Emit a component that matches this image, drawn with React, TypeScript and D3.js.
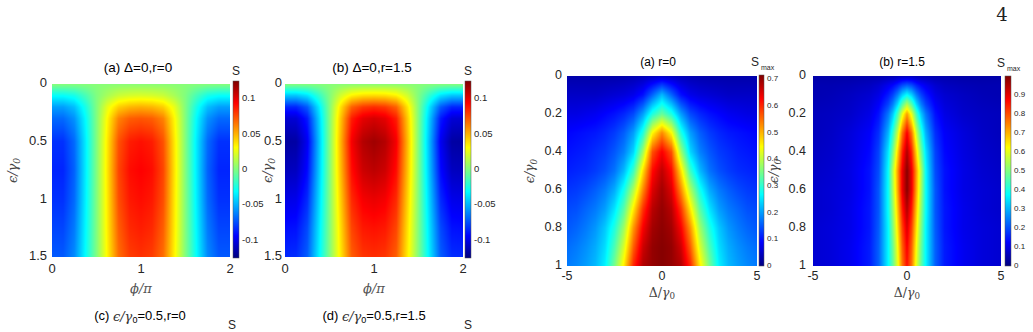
import React, { useMemo } from "react"
import * as d3 from "d3"

// ---- panels (a)/(b): S over phi/pi (cols) and eps/gamma0 (rows) ----
const phiCols = [0, 0.125, 0.25, 0.375, 0.5, 0.625, 0.75, 0.875, 1, 1.125, 1.25, 1.375, 1.5, 1.625, 1.75, 1.875, 2]
const epsRowsS = [0, 0.1, 0.2, 0.3, 0.5, 0.75, 1, 1.25, 1.5]

const sDelta0R0 = [
  [0.002, 0.002, 0.002, 0.002, 0.002, 0.002, 0.002, 0.002, 0.002, 0.002, 0.002, 0.002, 0.002, 0.002, 0.002, 0.002, 0.002],
  [-0.030, -0.030, -0.026, -0.014, 0, 0.010, 0.018, 0.021, 0.022, 0.021, 0.018, 0.010, 0, -0.014, -0.026, -0.030, -0.030],
  [-0.055, -0.055, -0.047, -0.026, 0, 0.026, 0.043, 0.049, 0.051, 0.049, 0.043, 0.026, 0, -0.026, -0.047, -0.055, -0.055],
  [-0.068, -0.068, -0.058, -0.032, 0, 0.033, 0.062, 0.071, 0.073, 0.071, 0.062, 0.033, 0, -0.032, -0.058, -0.068, -0.068],
  [-0.082, -0.082, -0.068, -0.036, 0, 0.037, 0.074, 0.087, 0.090, 0.087, 0.074, 0.037, 0, -0.036, -0.068, -0.082, -0.082],
  [-0.085, -0.085, -0.070, -0.036, 0, 0.038, 0.077, 0.091, 0.094, 0.091, 0.077, 0.038, 0, -0.036, -0.070, -0.085, -0.085],
  [-0.082, -0.082, -0.068, -0.035, 0, 0.037, 0.075, 0.088, 0.091, 0.088, 0.075, 0.037, 0, -0.035, -0.068, -0.082, -0.082],
  [-0.077, -0.077, -0.064, -0.033, 0, 0.036, 0.071, 0.084, 0.087, 0.084, 0.071, 0.036, 0, -0.033, -0.064, -0.077, -0.077],
  [-0.072, -0.072, -0.060, -0.031, 0, 0.034, 0.067, 0.079, 0.082, 0.079, 0.067, 0.034, 0, -0.031, -0.060, -0.072, -0.072],
]

const sDelta0R15 = [
  [0.002, 0.002, 0.002, 0.002, 0.002, 0.002, 0.002, 0.002, 0.002, 0.002, 0.002, 0.002, 0.002, 0.002, 0.002, 0.002, 0.002],
  [-0.045, -0.045, -0.038, -0.020, 0, 0.020, 0.034, 0.039, 0.040, 0.039, 0.034, 0.020, 0, -0.020, -0.038, -0.045, -0.045],
  [-0.085, -0.085, -0.072, -0.038, 0, 0.038, 0.070, 0.080, 0.083, 0.080, 0.070, 0.038, 0, -0.038, -0.072, -0.085, -0.085],
  [-0.105, -0.104, -0.088, -0.045, 0, 0.045, 0.087, 0.100, 0.104, 0.100, 0.087, 0.045, 0, -0.045, -0.088, -0.104, -0.105],
  [-0.117, -0.116, -0.097, -0.049, 0, 0.049, 0.096, 0.112, 0.117, 0.112, 0.096, 0.049, 0, -0.049, -0.097, -0.116, -0.117],
  [-0.110, -0.109, -0.092, -0.047, 0, 0.047, 0.091, 0.106, 0.110, 0.106, 0.091, 0.047, 0, -0.047, -0.092, -0.109, -0.110],
  [-0.100, -0.099, -0.084, -0.043, 0, 0.043, 0.084, 0.096, 0.099, 0.096, 0.084, 0.043, 0, -0.043, -0.084, -0.099, -0.100],
  [-0.091, -0.090, -0.076, -0.039, 0, 0.039, 0.077, 0.088, 0.090, 0.088, 0.077, 0.039, 0, -0.039, -0.076, -0.090, -0.091],
  [-0.084, -0.083, -0.071, -0.036, 0, 0.036, 0.071, 0.081, 0.083, 0.081, 0.071, 0.036, 0, -0.036, -0.071, -0.083, -0.084],
]

// ---- right panels: S_max over Delta/gamma0 (cols) and eps/gamma0 (rows) ----
const deltaColsR0 = [-5, -4.5, -4, -3.5, -3, -2.5, -2, -1.5, -1, -0.5, 0, 0.5, 1, 1.5, 2, 2.5, 3, 3.5, 4, 4.5, 5]
const epsRowsR0 = [0, 0.1, 0.2, 0.3, 0.4, 0.5, 0.6, 0.7, 0.8, 0.9, 1]
const smaxR0 = [
  [0.03, 0.03, 0.03, 0.03, 0.03, 0.03, 0.032, 0.035, 0.04, 0.045, 0.05, 0.045, 0.04, 0.035, 0.032, 0.03, 0.03, 0.03, 0.03, 0.03, 0.03],
  [0.05, 0.05, 0.05, 0.05, 0.055, 0.06, 0.065, 0.075, 0.10, 0.16, 0.22, 0.16, 0.10, 0.075, 0.065, 0.06, 0.055, 0.05, 0.05, 0.05, 0.05],
  [0.07, 0.07, 0.075, 0.08, 0.09, 0.10, 0.115, 0.14, 0.20, 0.29, 0.34, 0.29, 0.20, 0.14, 0.115, 0.10, 0.09, 0.08, 0.075, 0.07, 0.07],
  [0.09, 0.095, 0.10, 0.105, 0.115, 0.13, 0.155, 0.20, 0.29, 0.45, 0.53, 0.45, 0.29, 0.20, 0.155, 0.13, 0.115, 0.105, 0.10, 0.095, 0.09],
  [0.10, 0.105, 0.11, 0.12, 0.13, 0.15, 0.18, 0.24, 0.38, 0.57, 0.63, 0.57, 0.38, 0.24, 0.18, 0.15, 0.13, 0.12, 0.11, 0.105, 0.10],
  [0.11, 0.115, 0.12, 0.13, 0.145, 0.17, 0.22, 0.31, 0.47, 0.62, 0.67, 0.62, 0.47, 0.31, 0.22, 0.17, 0.145, 0.13, 0.12, 0.115, 0.11],
  [0.125, 0.13, 0.14, 0.155, 0.175, 0.21, 0.28, 0.39, 0.53, 0.65, 0.69, 0.65, 0.53, 0.39, 0.28, 0.21, 0.175, 0.155, 0.14, 0.13, 0.125],
  [0.14, 0.145, 0.16, 0.175, 0.20, 0.25, 0.33, 0.46, 0.59, 0.675, 0.70, 0.675, 0.59, 0.46, 0.33, 0.25, 0.20, 0.175, 0.16, 0.145, 0.14],
  [0.15, 0.16, 0.175, 0.195, 0.23, 0.29, 0.38, 0.52, 0.63, 0.69, 0.705, 0.69, 0.63, 0.52, 0.38, 0.29, 0.23, 0.195, 0.175, 0.16, 0.15],
  [0.165, 0.175, 0.19, 0.21, 0.245, 0.32, 0.42, 0.56, 0.66, 0.70, 0.71, 0.70, 0.66, 0.56, 0.42, 0.32, 0.245, 0.21, 0.19, 0.175, 0.165],
  [0.175, 0.185, 0.20, 0.22, 0.26, 0.35, 0.46, 0.60, 0.68, 0.70, 0.71, 0.70, 0.68, 0.60, 0.46, 0.35, 0.26, 0.22, 0.20, 0.185, 0.175],
]

const deltaColsR15 = [-5, -4, -3, -2, -1.5, -1, -0.75, -0.5, -0.25, 0, 0.25, 0.5, 0.75, 1, 1.5, 2, 3, 4, 5]
const epsRowsR15 = [0, 0.05, 0.1, 0.15, 0.2, 0.3, 0.4, 0.5, 0.6, 0.7, 0.8, 0.9, 1]
const smaxR15 = [
  [0.04, 0.04, 0.04, 0.045, 0.045, 0.05, 0.05, 0.055, 0.06, 0.06, 0.06, 0.055, 0.05, 0.05, 0.045, 0.045, 0.04, 0.04, 0.04],
  [0.05, 0.05, 0.055, 0.065, 0.08, 0.11, 0.13, 0.16, 0.20, 0.22, 0.20, 0.16, 0.13, 0.11, 0.08, 0.065, 0.055, 0.05, 0.05],
  [0.05, 0.055, 0.065, 0.08, 0.10, 0.15, 0.19, 0.25, 0.33, 0.38, 0.33, 0.25, 0.19, 0.15, 0.10, 0.08, 0.065, 0.055, 0.05],
  [0.055, 0.06, 0.07, 0.09, 0.12, 0.19, 0.25, 0.34, 0.46, 0.55, 0.46, 0.34, 0.25, 0.19, 0.12, 0.09, 0.07, 0.06, 0.055],
  [0.06, 0.065, 0.075, 0.10, 0.14, 0.24, 0.32, 0.44, 0.60, 0.72, 0.60, 0.44, 0.32, 0.24, 0.14, 0.10, 0.075, 0.065, 0.06],
  [0.06, 0.07, 0.09, 0.12, 0.17, 0.30, 0.42, 0.57, 0.76, 0.88, 0.76, 0.57, 0.42, 0.30, 0.17, 0.12, 0.09, 0.07, 0.06],
  [0.065, 0.075, 0.095, 0.13, 0.19, 0.35, 0.49, 0.66, 0.84, 0.95, 0.84, 0.66, 0.49, 0.35, 0.19, 0.13, 0.095, 0.075, 0.065],
  [0.07, 0.08, 0.10, 0.14, 0.20, 0.375, 0.55, 0.72, 0.89, 0.99, 0.89, 0.72, 0.55, 0.375, 0.20, 0.14, 0.10, 0.08, 0.07],
  [0.075, 0.085, 0.10, 0.14, 0.21, 0.38, 0.54, 0.71, 0.89, 0.99, 0.89, 0.71, 0.54, 0.38, 0.21, 0.14, 0.10, 0.085, 0.075],
  [0.075, 0.085, 0.105, 0.145, 0.21, 0.38, 0.52, 0.68, 0.85, 0.95, 0.85, 0.68, 0.52, 0.38, 0.21, 0.145, 0.105, 0.085, 0.075],
  [0.08, 0.09, 0.105, 0.145, 0.215, 0.37, 0.50, 0.65, 0.81, 0.91, 0.81, 0.65, 0.50, 0.37, 0.215, 0.145, 0.105, 0.09, 0.08],
  [0.08, 0.09, 0.11, 0.15, 0.22, 0.37, 0.48, 0.62, 0.78, 0.88, 0.78, 0.62, 0.48, 0.37, 0.22, 0.15, 0.11, 0.09, 0.08],
  [0.08, 0.09, 0.11, 0.15, 0.22, 0.37, 0.47, 0.60, 0.76, 0.86, 0.76, 0.60, 0.47, 0.37, 0.22, 0.15, 0.11, 0.09, 0.08],
]

// tick labels
const phiTicks = [0, 1, 2]
const epsTicksS = [0, 0.5, 1, 1.5]
const sTicks = [-0.1, -0.05, 0, 0.05, 0.1]
const deltaTicks = [-5, 0, 5]
const epsTicksR = [0, 0.2, 0.4, 0.6, 0.8, 1]
const smaxTicksR0 = [0, 0.1, 0.2, 0.3, 0.4, 0.5, 0.6, 0.7]
const smaxTicksR15 = [0, 0.1, 0.2, 0.3, 0.4, 0.5, 0.6, 0.7, 0.8, 0.9]

// MATLAB jet
const jetStops = [0, 0.125, 0.375, 0.625, 0.875, 1]
const jetColors = ["#00007f", "#0000ff", "#00ffff", "#ffff00", "#ff0000", "#7f0000"]
const jet = d3.scaleLinear<string>().domain(jetStops).range(jetColors).clamp(true)

const SANS = "'Liberation Sans', Arial, sans-serif"
const SERIF = "'DejaVu Serif', 'Liberation Serif', serif"
const INK = "#262626"

function locate(axis: number[], v: number): [number, number] {
  let i = d3.bisectRight(axis, v) - 1
  i = Math.max(0, Math.min(axis.length - 2, i))
  const f = Math.max(0, Math.min(1, (v - axis[i]) / (axis[i + 1] - axis[i])))
  return [i, f]
}

function fieldImage(
  cols: number[],
  rows: number[],
  z: number[][],
  x: d3.ScaleLinear<number, number>,
  y: d3.ScaleLinear<number, number>,
  lo: number,
  hi: number
) {
  const [xa, xb] = x.range()
  const [ya, yb] = y.range()
  const w = Math.round(xb - xa)
  const h = Math.round(yb - ya)
  const canvas = document.createElement("canvas")
  canvas.width = w
  canvas.height = h
  const ctx = canvas.getContext("2d")!
  const img = ctx.createImageData(w, h)
  const t = d3.scaleLinear().domain([lo, hi]).range([0, 1])
  for (let j = 0; j < h; j++) {
    const [r, fy] = locate(rows, y.invert(ya + j + 0.5))
    for (let i = 0; i < w; i++) {
      const [c, fx] = locate(cols, x.invert(xa + i + 0.5))
      const v =
        (1 - fy) * ((1 - fx) * z[r][c] + fx * z[r][c + 1]) +
        fy * ((1 - fx) * z[r + 1][c] + fx * z[r + 1][c + 1])
      const col = d3.rgb(jet(t(v)))
      const k = (j * w + i) * 4
      img.data[k] = col.r
      img.data[k + 1] = col.g
      img.data[k + 2] = col.b
      img.data[k + 3] = 255
    }
  }
  ctx.putImageData(img, 0, 0)
  return canvas.toDataURL()
}

type PanelProps = {
  id: string
  cols: number[]
  rows: number[]
  z: number[][]
  lo: number
  hi: number
  xDomain: [number, number]
  yDomain: [number, number]
  xTicks: number[]
  yTicks: number[]
  cbTicks: number[]
  box: { left: number; right: number; top: number; bottom: number }
  cb: { left: number; right: number; top: number; bottom: number }
  title: string
  titleX: number
  titleY: number
  titleSize: number
  tickSize: number
  cbTickSize: number
  yTickX: number
  yLabelX: number
  xTickGap: number
  xLabelGap: number
  xLabel: "phi" | "delta"
  cbLabel: "S" | "Smax"
}

const EpsLabel = ({ x, y, size }: { x: number; y: number; size: number }) => (
  <text
    transform={`translate(${x},${y}) rotate(-90)`}
    textAnchor="middle"
    fontFamily={SERIF}
    fontStyle="italic"
    fontSize={size}
    fill="#444"
  >
    ϵ/γ<tspan fontSize={size * 0.7} dy={3}>0</tspan>
  </text>
)

const Panel = (p: PanelProps) => {
  const x = d3.scaleLinear().domain(p.xDomain).range([p.box.left, p.box.right])
  const y = d3.scaleLinear().domain(p.yDomain).range([p.box.top, p.box.bottom])
  const c = d3.scaleLinear().domain([p.lo, p.hi]).range([p.cb.bottom, p.cb.top])
  const href = useMemo(() => fieldImage(p.cols, p.rows, p.z, x, y, p.lo, p.hi), [])
  const cx = (p.box.left + p.box.right) / 2
  const cy = (p.box.top + p.box.bottom) / 2
  return (
    <g>
      <defs>
        <linearGradient id={`cb-${p.id}`} x1="0" y1="1" x2="0" y2="0">
          {jetStops.map((s, i) => (
            <stop key={i} offset={s} stopColor={jetColors[i]} />
          ))}
        </linearGradient>
      </defs>
      <image
        href={href}
        x={p.box.left}
        y={p.box.top}
        width={p.box.right - p.box.left}
        height={p.box.bottom - p.box.top}
        preserveAspectRatio="none"
      />
      <text x={p.titleX} y={p.titleY} textAnchor="middle" dominantBaseline="middle" fontFamily={SANS} fontSize={p.titleSize} fill="#000">
        {p.title}
      </text>
      {p.yTicks.map((d) => (
        <text key={d} x={p.yTickX} y={y(d)} textAnchor="end" dominantBaseline="middle" fontFamily={SANS} fontSize={p.tickSize} fill={INK}>
          {d}
        </text>
      ))}
      {p.xTicks.map((d) => (
        <text key={d} x={x(d)} y={p.box.bottom + p.xTickGap} textAnchor="middle" dominantBaseline="middle" fontFamily={SANS} fontSize={p.tickSize} fill={INK}>
          {d}
        </text>
      ))}
      {p.xLabel === "phi" ? (
        <text x={cx} y={p.box.bottom + p.xLabelGap} textAnchor="middle" dominantBaseline="middle" fontFamily={SERIF} fontStyle="italic" fontSize={p.tickSize} fill="#555">
          ϕ/π
        </text>
      ) : (
        <text x={cx} y={p.box.bottom + p.xLabelGap} textAnchor="middle" dominantBaseline="middle" fontFamily={SERIF} fontSize={p.tickSize} fill="#444">
          Δ/<tspan fontStyle="italic">γ</tspan>
          <tspan fontSize={p.tickSize * 0.7} dy={3}>0</tspan>
        </text>
      )}
      <EpsLabel x={p.yLabelX} y={cy} size={p.tickSize} />
      <rect
        x={p.cb.left}
        y={p.cb.top}
        width={p.cb.right - p.cb.left}
        height={p.cb.bottom - p.cb.top}
        fill={`url(#cb-${p.id})`}
        stroke="#555"
        strokeWidth={0.5}
      />
      {p.cbTicks.map((d) => (
        <text key={d} x={p.cb.right + 3} y={c(d)} dominantBaseline="middle" fontFamily={SANS} fontSize={p.cbTickSize} fill={INK}>
          {d}
        </text>
      ))}
      {p.cbLabel === "S" ? (
        <text x={(p.cb.left + p.cb.right) / 2} y={p.cb.top - 9} textAnchor="middle" dominantBaseline="middle" fontFamily={SANS} fontSize={12} fill={INK}>
          S
        </text>
      ) : (
        <text x={p.cb.left - 8} y={p.cb.top - 12} dominantBaseline="middle" fontFamily={SANS} fontSize={12} fill={INK}>
          S<tspan fontSize={7} dx={2} dy={5}>max</tspan>
        </text>
      )}
    </g>
  )
}

const BottomTitle = ({ x, label, r, sx }: { x: number; label: string; r: string; sx: number }) => (
  <g>
    <text x={x} y={317} textAnchor="middle" dominantBaseline="middle" fontFamily={SANS} fontSize={13} fill="#000">
      {label} <tspan fontFamily={SERIF} fontStyle="italic" fill="#333">ϵ/γ</tspan>
      <tspan fontSize={9} dy={4}>0</tspan>
      <tspan dy={-4}>=0.5,r={r}</tspan>
    </text>
    <text x={sx} y={326} textAnchor="middle" dominantBaseline="middle" fontFamily={SANS} fontSize={12} fill={INK}>
      S
    </text>
  </g>
)

export default function App() {
  return (
    <svg width={1033} height={332} style={{ position: "absolute", left: 0, top: 0, background: "#fff" }}>
      <text x={1002} y={21} textAnchor="middle" fontFamily="'DejaVu Serif', serif" fontSize={18} fill="#222">
        4
      </text>
      <Panel
        id="a1"
        cols={phiCols}
        rows={epsRowsS}
        z={sDelta0R0}
        lo={-0.125}
        hi={0.125}
        xDomain={[0, 2]}
        yDomain={[0, 1.5]}
        xTicks={phiTicks}
        yTicks={epsTicksS}
        cbTicks={sTicks}
        box={{ left: 52, right: 230, top: 84, bottom: 257 }}
        cb={{ left: 233, right: 239, top: 81, bottom: 258 }}
        title="(a) Δ=0,r=0"
        titleX={138}
        titleY={68}
        titleSize={13.5}
        tickSize={13}
        cbTickSize={9.5}
        yTickX={47}
        yLabelX={17}
        xTickGap={13}
        xLabelGap={32}
        xLabel="phi"
        cbLabel="S"
      />
      <Panel
        id="b1"
        cols={phiCols}
        rows={epsRowsS}
        z={sDelta0R15}
        lo={-0.125}
        hi={0.125}
        xDomain={[0, 2]}
        yDomain={[0, 1.5]}
        xTicks={phiTicks}
        yTicks={epsTicksS}
        cbTicks={sTicks}
        box={{ left: 285, right: 463, top: 84, bottom: 257 }}
        cb={{ left: 465, right: 471, top: 81, bottom: 258 }}
        title="(b) Δ=0,r=1.5"
        titleX={372}
        titleY={68}
        titleSize={13.5}
        tickSize={13}
        cbTickSize={9.5}
        yTickX={282}
        yLabelX={272}
        xTickGap={13}
        xLabelGap={32}
        xLabel="phi"
        cbLabel="S"
      />
      <Panel
        id="a2"
        cols={deltaColsR0}
        rows={epsRowsR0}
        z={smaxR0}
        lo={0}
        hi={0.715}
        xDomain={[-5, 5]}
        yDomain={[0, 1]}
        xTicks={deltaTicks}
        yTicks={epsTicksR}
        cbTicks={smaxTicksR0}
        box={{ left: 567, right: 757, top: 76, bottom: 266 }}
        cb={{ left: 759, right: 764, top: 75, bottom: 266 }}
        title="(a) r=0"
        titleX={658}
        titleY={63}
        titleSize={12}
        tickSize={12.5}
        cbTickSize={8}
        yTickX={562}
        yLabelX={534}
        xTickGap={11}
        xLabelGap={27}
        xLabel="delta"
        cbLabel="Smax"
      />
      <Panel
        id="b2"
        cols={deltaColsR15}
        rows={epsRowsR15}
        z={smaxR15}
        lo={0}
        hi={1}
        xDomain={[-5, 5]}
        yDomain={[0, 1]}
        xTicks={deltaTicks}
        yTicks={epsTicksR}
        cbTicks={smaxTicksR15}
        box={{ left: 813, right: 1001, top: 76, bottom: 266 }}
        cb={{ left: 1005, right: 1011, top: 76, bottom: 266 }}
        title="(b) r=1.5"
        titleX={902}
        titleY={63}
        titleSize={12}
        tickSize={12.5}
        cbTickSize={8}
        yTickX={806}
        yLabelX={778}
        xTickGap={11}
        xLabelGap={27}
        xLabel="delta"
        cbLabel="Smax"
      />
      <BottomTitle x={140} label="(c)" r="0" sx={232} />
      <BottomTitle x={374} label="(d)" r="1.5" sx={468} />
    </svg>
  )
}
